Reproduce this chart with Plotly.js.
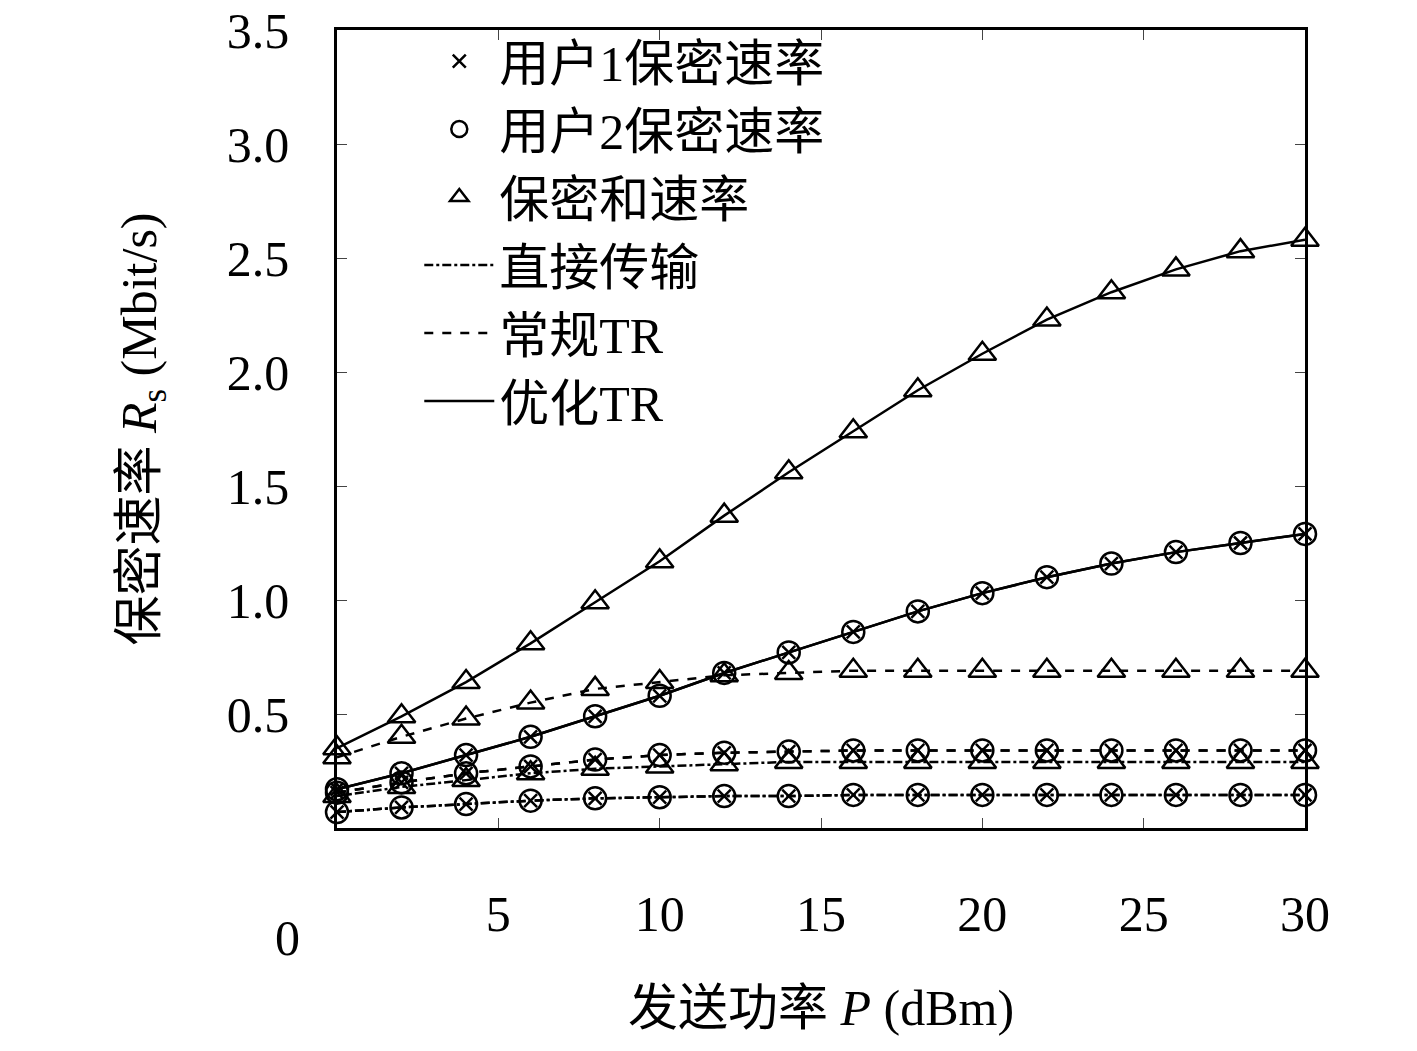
<!DOCTYPE html>
<html><head><meta charset="utf-8">
<script src="https://cdn.plot.ly/plotly-3.0.1.min.js"></script>
</head><body style="margin:0">
<div id="chart" style="width:1417px;height:1051px"></div>
<script>
const power = [0, 2, 4, 6, 8, 10, 12, 14, 16, 18, 20, 22, 24, 26, 28, 30];

// optimized TR
const optUser = [0.17, 0.24, 0.32, 0.40, 0.49, 0.58, 0.68, 0.77, 0.86, 0.95, 1.03, 1.10, 1.16, 1.21, 1.25, 1.29];
const optSum = [0.35, 0.49, 0.64, 0.81, 0.99, 1.17, 1.37, 1.56, 1.74, 1.92, 2.08, 2.23, 2.35, 2.45, 2.53, 2.58];
// conventional TR
const convUser = [0.155, 0.20, 0.24, 0.27, 0.30, 0.32, 0.33, 0.335, 0.34, 0.34, 0.34, 0.34, 0.34, 0.34, 0.34, 0.34];
const convSum = [0.31, 0.40, 0.48, 0.55, 0.61, 0.64, 0.67, 0.68, 0.69, 0.69, 0.69, 0.69, 0.69, 0.69, 0.69, 0.69];
// direct transmission
const directUser = [0.07, 0.09, 0.105, 0.12, 0.13, 0.135, 0.14, 0.14, 0.145, 0.145, 0.145, 0.145, 0.145, 0.145, 0.145, 0.145];
const directSum = [0.14, 0.18, 0.21, 0.24, 0.26, 0.27, 0.28, 0.29, 0.29, 0.29, 0.29, 0.29, 0.29, 0.29, 0.29, 0.29];

const legendNames = ['用户1保密速率', '用户2保密速率', '保密和速率', '直接传输', '常规TR', '优化TR'];

const blk = '#000';
const circ = {symbol: 'circle-open', size: 22, color: blk, line: {width: 2.5}};
const cross = {symbol: 'x-thin-open', size: 13, color: blk, line: {width: 2.5}};
const tri = {symbol: 'triangle-up-open', size: 24, color: blk, line: {width: 2.5}};

function series(y, dash, marker) {
  return {x: power, y: y, mode: 'lines+markers', line: {color: blk, width: 2.5, dash: dash},
          marker: marker, showlegend: false, cliponaxis: false};
}

const traces = [];
[[directUser, directSum, 'dashdot'], [convUser, convSum, 'dash'], [optUser, optSum, 'solid']].forEach(([u, s, d]) => {
  traces.push(series(u, d, circ));
  traces.push(series(u, d, cross));
  traces.push(series(s, d, tri));
});

// legend entries
const lg = {x: [null], y: [null], showlegend: true};
traces.push(Object.assign({name: legendNames[0], mode: 'markers', marker: cross}, lg));
traces.push(Object.assign({name: legendNames[1], mode: 'markers', marker: circ}, lg));
traces.push(Object.assign({name: legendNames[2], mode: 'markers', marker: tri}, lg));
traces.push(Object.assign({name: legendNames[3], mode: 'lines', line: {color: blk, width: 2.5, dash: 'dashdot'}}, lg));
traces.push(Object.assign({name: legendNames[4], mode: 'lines', line: {color: blk, width: 2.5, dash: 'dash'}}, lg));
traces.push(Object.assign({name: legendNames[5], mode: 'lines', line: {color: blk, width: 2.5}}, lg));

const font = {family: 'Liberation Serif, Noto Sans CJK SC, serif', size: 50, color: blk};

const layout = {
  width: 1417, height: 1051,
  margin: {l: 337, r: 112, t: 30, b: 223},
  paper_bgcolor: '#fff', plot_bgcolor: '#fff',
  font: font,
  xaxis: {range: [0, 30], tickvals: [5, 10, 15, 20, 25, 30], ticks: 'inside', ticklen: 10,
          ticklabelstandoff: 40,
          showline: true, mirror: 'ticks', linecolor: blk, linewidth: 2.5, showgrid: false, zeroline: false,
          title: {text: '发送功率 <i>P</i> (dBm)', font: font, standoff: 50}},
  yaxis: {range: [0, 3.5], tickvals: [0.5, 1, 1.5, 2, 2.5, 3, 3.5], ticktext: ['0.5', '1.0', '1.5', '2.0', '2.5', '3.0', '3.5'],
          ticks: 'inside', ticklen: 10, ticklabelstandoff: 35, showline: true, mirror: 'ticks', linecolor: blk, linewidth: 2.5,
          showgrid: false, zeroline: false,
          title: {text: '保密速率 <i>R</i><sub>s</sub> (Mbit/s)', font: font, standoff: 55}},
  legend: {x: 0.085, y: 1.01, xanchor: 'left', yanchor: 'top', bgcolor: 'rgba(0,0,0,0)',
           font: font, itemwidth: 70, tracegroupgap: 6},
  annotations: [{text: '0', xref: 'paper', yref: 'paper', x: -0.066, y: -0.1, yanchor: 'top', showarrow: false, font: font}]
};

Plotly.newPlot('chart', traces, layout, {displayModeBar: false});
</script>
</body></html>
